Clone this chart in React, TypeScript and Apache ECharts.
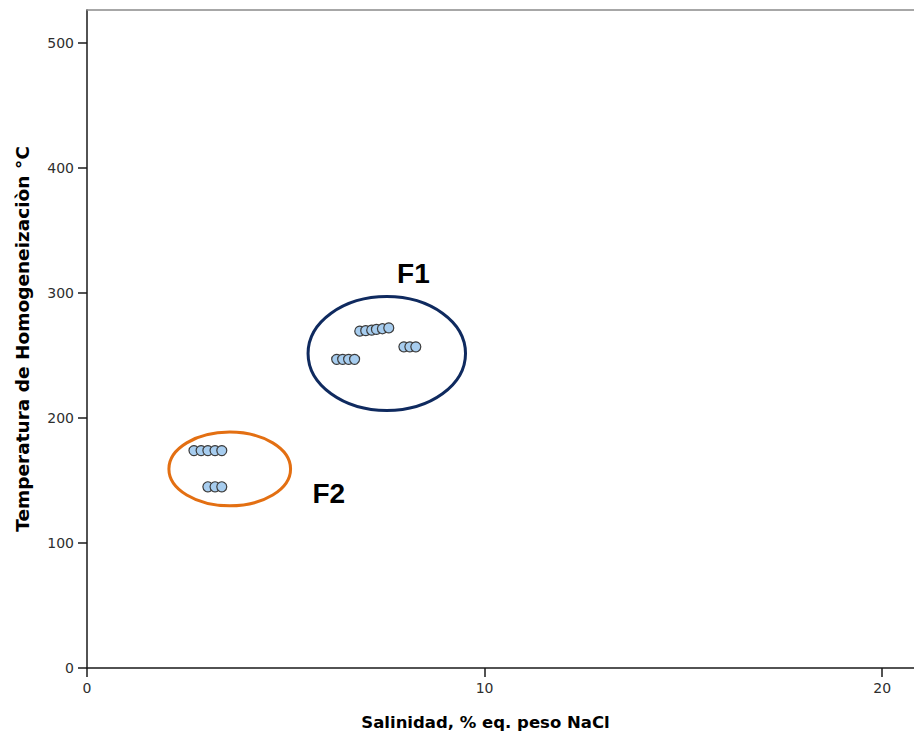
import React, { useEffect, useRef } from "react";
import * as echarts from "echarts";

// Fluid inclusion data: salinity (% eq. weight NaCl) vs homogenization temperature (°C)
const salinity = [
  6.86, 7.01, 7.16, 7.28, 7.43, 7.59,
  6.28, 6.43, 6.58, 6.73,
  7.97, 8.12, 8.27,
  2.69, 2.87, 3.04, 3.22, 3.39,
  3.04, 3.22, 3.39,
];
const temperature = [
  269.6, 270, 270.4, 271, 271.5, 272.2,
  247, 247, 247, 247,
  257, 257, 257,
  174, 174, 174, 174, 174,
  145, 145, 145,
];

const xTicks = [0, 10, 20];
const yTicks = [0, 100, 200, 300, 400, 500];

const groupNames = ["F1", "F2"];
const ellipseCenterX = [7.54, 3.59];
const ellipseCenterY = [251.7, 159.3];
const ellipseRadiusX = [1.98, 1.53];
const ellipseRadiusY = [45.6, 29.5];
const labelX = [8.21, 6.08];
const labelY = [315.8, 140];
const groupColors = ["#0f2a5f", "#e36f12"];

const X_MAX = 20.8;
const Y_MAX = 526.6;

export default function App() {
  const ref = useRef<HTMLDivElement>(null);

  useEffect(() => {
    if (!ref.current) return;
    const chart = echarts.init(ref.current, undefined, { renderer: "svg" });

    const axisColor = "#1a1a1a";
    const tickFont = {
      fontFamily: "DejaVu Sans",
      fontSize: 14,
      color: "#2e2e2e",
    };
    const titleFont = {
      fontFamily: "DejaVu Sans",
      fontWeight: "bold" as const,
      color: "#000000",
    };

    const points = salinity.map((s, i) => [s, temperature[i]]);
    const ellipses = groupNames.map((_, i) => [
      ellipseCenterX[i],
      ellipseCenterY[i],
      ellipseRadiusX[i],
      ellipseRadiusY[i],
    ]);
    const labels = groupNames.map((_, i) => [labelX[i], labelY[i]]);

    chart.setOption({
      animation: false,
      backgroundColor: "#ffffff",
      grid: { left: 87, right: 0, top: 10, bottom: 72, containLabel: false },
      xAxis: [
        {
          type: "value",
          min: 0,
          max: X_MAX,
          position: "bottom",
          axisLine: { show: true, onZero: false, lineStyle: { color: axisColor, width: 1.5 } },
          axisTick: {
            show: true,
            length: 9,
            customValues: xTicks,
            lineStyle: { color: axisColor, width: 1.5 },
          },
          axisLabel: { customValues: xTicks, margin: 13, ...tickFont },
          splitLine: { show: false },
          name: "Salinidad, % eq. peso NaCl",
          nameLocation: "middle",
          nameGap: 46,
          nameTextStyle: { ...titleFont, fontSize: 16.5, padding: [0, 30, 0, 0] },
        },
        {
          type: "value",
          min: 0,
          max: X_MAX,
          position: "top",
          axisLine: { show: true, onZero: false, lineStyle: { color: "#8a8a8a", width: 1.5 } },
          axisTick: { show: false },
          axisLabel: { show: false },
          splitLine: { show: false },
        },
      ],
      yAxis: {
        type: "value",
        min: 0,
        max: Y_MAX,
        axisLine: { show: true, onZero: false, lineStyle: { color: axisColor, width: 1.5 } },
        axisTick: {
          show: true,
          length: 9,
          customValues: yTicks,
          lineStyle: { color: axisColor, width: 1.5 },
        },
        axisLabel: { customValues: yTicks, margin: 13, ...tickFont },
        splitLine: { show: false },
        name: "Temperatura de Homogeneizaciòn °C",
        nameLocation: "middle",
        nameGap: 55,
        nameTextStyle: { ...titleFont, fontSize: 18.5 },
      },
      series: [
        {
          type: "custom",
          name: "ellipses",
          data: ellipses,
          silent: true,
          renderItem: (params: any, api: any) => {
            const c = api.coord([api.value(0), api.value(1)]);
            const s = api.size([api.value(2), api.value(3)]);
            return {
              type: "ellipse",
              shape: { cx: c[0], cy: c[1], rx: s[0], ry: s[1] },
              style: {
                fill: "transparent",
                stroke: groupColors[params.dataIndex],
                lineWidth: 3,
              },
            };
          },
        },
        {
          type: "scatter",
          name: "inclusiones",
          data: points,
          symbol: "circle",
          symbolSize: 10,
          itemStyle: {
            color: "#a7cdef",
            borderColor: "#3c3c3c",
            borderWidth: 1.2,
            opacity: 1,
          },
        },
        {
          type: "custom",
          name: "labels",
          data: labels,
          silent: true,
          renderItem: (params: any, api: any) => {
            const c = api.coord([api.value(0), api.value(1)]);
            return {
              type: "text",
              x: c[0],
              y: c[1],
              style: {
                text: groupNames[params.dataIndex],
                fontFamily: "Liberation Sans, Arial, sans-serif",
                fontWeight: "bold",
                fontSize: 28,
                fill: "#000000",
                align: "center",
                verticalAlign: "middle",
              },
            };
          },
        },
      ],
    });

    return () => chart.dispose();
  }, []);

  return (
    <div
      ref={ref}
      style={{ position: "fixed", left: 0, top: 0, width: 914, height: 740 }}
    />
  );
}
